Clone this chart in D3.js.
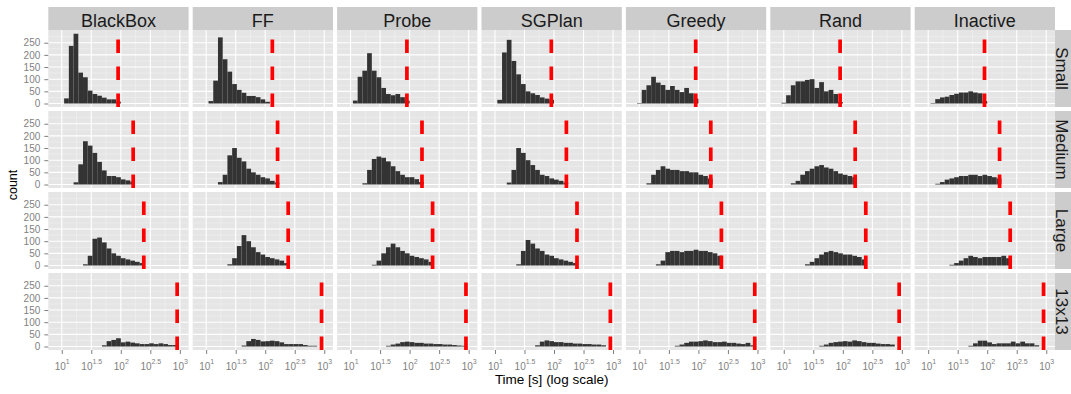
<!DOCTYPE html>
<html>
<head>
<meta charset="utf-8">
<script src="https://cdn.jsdelivr.net/npm/d3@7"></script>
<style>
  body { margin: 0; background: #fff; }
  svg { display: block; font-family: "Liberation Sans", Arial, sans-serif; }
</style>
</head>
<body>
<div id="chart"></div>
<script>
// facets
const planners = ["BlackBox", "FF", "Probe", "SGPlan", "Greedy", "Rand", "Inactive"];
const sizes = ["Small", "Medium", "Large", "13x13"];

// histogram bins in log10(seconds): bin k covers [binStart + k*binWidth, +binWidth)
const binStart = 0.88;
const binWidth = 0.08;

// counts per bin, one array per planner (same order as planners)
const countsSmall = [
  [0, 0, 21, 237, 287, 127, 108, 53, 39, 32, 24, 17, 17, 8],
  [0, 0, 10, 94, 272, 182, 131, 80, 56, 44, 31, 31, 26, 17, 7],
  [0, 0, 12, 110, 135, 207, 135, 108, 64, 39, 34, 39, 26, 12],
  [0, 0, 15, 210, 262, 175, 120, 80, 50, 42, 35, 25, 20, 15],
  [0, 2, 56, 75, 110, 86, 76, 56, 72, 56, 47, 64, 42, 20],
  [0, 3, 34, 75, 91, 91, 97, 100, 64, 88, 50, 56, 39, 6],
  [0, 0, 2, 18, 25, 28, 35, 40, 45, 45, 50, 45, 42, 10]
];
const countsMedium = [
  [0, 0, 0, 0, 9, 83, 178, 160, 130, 93, 58, 35, 35, 30, 21, 17, 12],
  [0, 0, 0, 0, 10, 40, 120, 150, 110, 95, 65, 50, 40, 30, 25, 15, 8],
  [0, 0, 0, 0, 5, 60, 105, 115, 110, 95, 75, 55, 40, 30, 30, 22, 10],
  [0, 0, 0, 0, 8, 60, 150, 130, 100, 80, 60, 40, 35, 25, 20, 15, 8],
  [0, 0, 0, 5, 40, 60, 75, 65, 60, 60, 55, 55, 50, 50, 40, 35, 25],
  [0, 0, 0, 5, 15, 40, 55, 65, 75, 80, 70, 65, 55, 45, 40, 35, 30],
  [0, 0, 0, 3, 10, 20, 25, 30, 35, 35, 40, 40, 35, 40, 35, 30, 25]
];
const countsLarge = [
  [0, 0, 0, 0, 0, 0, 5, 40, 110, 115, 95, 70, 50, 40, 30, 25, 20, 15, 10],
  [0, 0, 0, 0, 0, 0, 5, 30, 80, 125, 100, 75, 55, 45, 35, 30, 25, 20, 10],
  [0, 0, 0, 0, 0, 0, 3, 20, 50, 75, 90, 75, 60, 50, 40, 35, 30, 25, 15],
  [0, 0, 0, 0, 0, 0, 5, 60, 105, 90, 70, 60, 45, 40, 30, 25, 20, 15, 10],
  [0, 0, 0, 0, 0, 5, 20, 55, 60, 60, 55, 60, 60, 65, 60, 60, 55, 50, 40],
  [0, 0, 0, 0, 0, 0, 5, 15, 30, 45, 55, 60, 55, 50, 45, 45, 40, 35, 25],
  [0, 0, 0, 0, 0, 0, 3, 10, 20, 30, 40, 35, 30, 35, 35, 35, 35, 40, 30]
];
const counts13x13 = [
  [0, 0, 0, 0, 0, 0, 0, 0, 0, 0, 5, 22, 27, 34, 17, 20, 16, 13, 10, 10, 13, 10, 13, 10, 6, 6],
  [0, 0, 0, 0, 0, 0, 0, 0, 0, 4, 22, 31, 27, 21, 22, 24, 22, 17, 10, 10, 10, 10, 6, 3, 3],
  [0, 0, 0, 0, 0, 0, 0, 0, 0, 3, 8, 12, 18, 20, 18, 15, 15, 12, 12, 10, 10, 8, 8, 6, 4, 3],
  [0, 0, 0, 0, 0, 0, 0, 0, 0, 0, 5, 20, 25, 22, 18, 18, 15, 15, 12, 12, 10, 10, 8, 8, 5],
  [0, 0, 0, 0, 0, 0, 0, 0, 0, 3, 8, 15, 20, 20, 22, 25, 22, 18, 18, 20, 15, 15, 12, 10, 15, 5],
  [0, 0, 0, 0, 0, 0, 0, 0, 0, 3, 8, 15, 18, 20, 22, 20, 25, 22, 18, 15, 15, 12, 10, 10, 8],
  [0, 0, 0, 0, 0, 0, 0, 0, 0, 0, 3, 13, 24, 24, 17, 10, 13, 13, 13, 20, 13, 20, 13, 13, 5]
];
const countsBySize = [countsSmall, countsMedium, countsLarge, counts13x13];

// time limit (seconds) drawn as the dashed red line, per size and planner
const limitsSmall = [90, 132, 90, 90, 90, 90, 90];
const limitsMedium = [162, 162, 162, 162, 162, 162, 162];
const limitsLarge = [245, 245, 245, 245, 245, 245, 245];
const limits13x13 = [900, 900, 900, 900, 900, 900, 900];
const limitsBySize = [limitsSmall, limitsMedium, limitsLarge, limits13x13];

// axis ticks
const xTickExps = ["1", "1.5", "2", "2.5", "3"];
const xMinorExps = [1.25, 1.75, 2.25, 2.75];
const yTicks = [0, 50, 100, 150, 200, 250];
const yMinor = [25, 75, 125, 175, 225, 275];

// layout
const W = 1071, H = 394;
const plotL = 48.3, plotR = 1055, plotT = 30, plotB = 350;
const gapX = 4.1, gapY = 4, stripH = 23;
const pw = (plotR - plotL - gapX * (planners.length - 1)) / planners.length;
const ph = (plotB - plotT - gapY * (sizes.length - 1)) / sizes.length;

const svg = d3.select("#chart").append("svg")
  .attr("width", W)
  .attr("height", H);

const x = d3.scaleLog()
  .domain([Math.pow(10, 0.772), Math.pow(10, 3.148)])
  .range([0, pw]);

const y = d3.scaleLinear()
  .domain([-14.4, 302.4])
  .range([ph, 0]);

sizes.forEach((size, i) => {
  planners.forEach((planner, j) => {
    const px = plotL + j * (pw + gapX);
    const py = plotT + i * (ph + gapY);
    const g = svg.append("g").attr("transform", `translate(${px},${py})`);

    g.append("rect")
      .attr("width", pw)
      .attr("height", ph)
      .attr("fill", "#e5e5e5");

    // minor grid
    g.selectAll(".vminor").data(xMinorExps).enter().append("line")
      .attr("x1", d => x(Math.pow(10, d))).attr("x2", d => x(Math.pow(10, d)))
      .attr("y1", 0).attr("y2", ph)
      .attr("stroke", "#f2f2f2").attr("stroke-width", 0.6);
    g.selectAll(".hminor").data(yMinor).enter().append("line")
      .attr("x1", 0).attr("x2", pw)
      .attr("y1", d => y(d)).attr("y2", d => y(d))
      .attr("stroke", "#f2f2f2").attr("stroke-width", 0.6);

    // major grid
    g.selectAll(".vmajor").data(xTickExps).enter().append("line")
      .attr("x1", d => x(Math.pow(10, +d))).attr("x2", d => x(Math.pow(10, +d)))
      .attr("y1", 0).attr("y2", ph)
      .attr("stroke", "#fff").attr("stroke-width", 1.1);
    g.selectAll(".hmajor").data(yTicks).enter().append("line")
      .attr("x1", 0).attr("x2", pw)
      .attr("y1", d => y(d)).attr("y2", d => y(d))
      .attr("stroke", "#fff").attr("stroke-width", 1.1);

    // histogram bars
    const bins = countsBySize[i][j]
      .map((c, k) => ({ k: k, count: c }))
      .filter(d => d.count > 0);

    g.selectAll(".bar").data(bins).enter().append("rect")
      .attr("x", d => x(Math.pow(10, binStart + d.k * binWidth)))
      .attr("width", d => x(Math.pow(10, binStart + (d.k + 1) * binWidth)) - x(Math.pow(10, binStart + d.k * binWidth)))
      .attr("y", d => y(d.count))
      .attr("height", d => y(0) - y(d.count))
      .attr("fill", "#333333");

    // time limit
    const lx = x(limitsBySize[i][j]);
    g.append("line")
      .attr("x1", lx).attr("x2", lx)
      .attr("y1", ph).attr("y2", 0)
      .attr("stroke", "#ff0000")
      .attr("stroke-width", 3.7)
      .attr("stroke-dasharray", "13.5,13.5");

    // strips
    if (i === 0) {
      svg.append("rect")
        .attr("x", px).attr("y", plotT - stripH)
        .attr("width", pw).attr("height", stripH)
        .attr("fill", "#cccccc");
      svg.append("text")
        .attr("x", px + pw / 2).attr("y", plotT - 3.5)
        .attr("text-anchor", "middle")
        .attr("font-size", 18)
        .attr("fill", "#1a1a1a")
        .text(planner);
    }
    if (j === planners.length - 1) {
      svg.append("rect")
        .attr("x", plotR).attr("y", py)
        .attr("width", stripH).attr("height", ph)
        .attr("fill", "#cccccc");
      svg.append("text")
        .attr("transform", `translate(${plotR + 0.6},${py + ph / 2}) rotate(90)`)
        .attr("text-anchor", "middle")
        .attr("font-size", 17)
        .attr("fill", "#1a1a1a")
        .text(size);
    }

    // y axis
    if (j === 0) {
      const ya = svg.append("g")
        .attr("transform", `translate(${px},${py})`)
        .call(d3.axisLeft(y).tickValues(yTicks).tickSize(4).tickPadding(4));
      ya.select(".domain").remove();
      ya.selectAll("line").attr("stroke", "#7f7f7f");
      ya.selectAll("text").attr("fill", "#7f7f7f").attr("font-size", 10)
        .attr("font-family", "Liberation Sans, Arial, sans-serif");
    }

    // x axis
    if (i === sizes.length - 1) {
      const xa = svg.append("g")
        .attr("transform", `translate(${px},${py + ph})`)
        .call(d3.axisBottom(x)
          .tickValues(xTickExps.map(e => Math.pow(10, +e)))
          .tickSize(4)
          .tickFormat(() => ""));
      xa.select(".domain").remove();
      xa.selectAll("line").attr("stroke", "#7f7f7f");
      xa.selectAll(".tick").each(function (d, t) {
        const tx = d3.select(this).append("text")
          .attr("y", 20)
          .attr("text-anchor", "middle")
          .attr("fill", "#7f7f7f")
          .attr("font-size", 10)
          .attr("font-family", "Liberation Sans, Arial, sans-serif");
        tx.append("tspan").text("10");
        tx.append("tspan").attr("dy", -6).attr("font-size", 7).text(xTickExps[t]);
      });
    }
  });
});

// axis titles
svg.append("text")
  .attr("x", (plotL + plotR) / 2).attr("y", 384)
  .attr("text-anchor", "middle")
  .attr("font-size", 13.5)
  .attr("fill", "#000")
  .text("Time [s] (log scale)");

svg.append("text")
  .attr("transform", `translate(17,185) rotate(-90)`)
  .attr("text-anchor", "middle")
  .attr("font-size", 12.5)
  .attr("fill", "#000")
  .text("count");
</script>
</body>
</html>
